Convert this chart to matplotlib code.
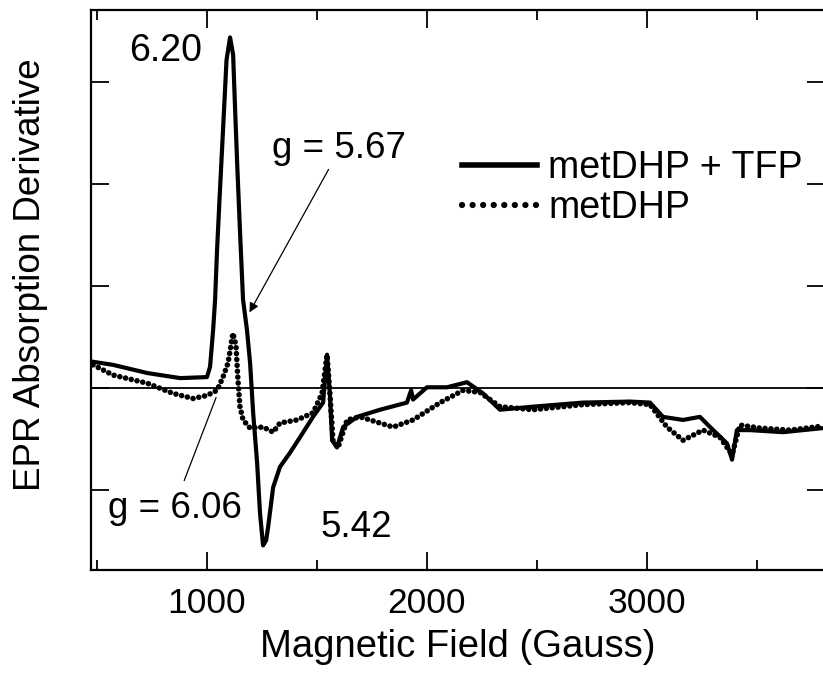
import matplotlib
matplotlib.use("Agg")
import matplotlib.pyplot as plt
from matplotlib.lines import Line2D

plt.rcParams["font.family"] = ["Liberation Sans", "DejaVu Sans"]

# metDHP + TFP (solid)
field_tfp = [483, 574, 729, 879, 1001, 1015, 1029, 1038, 1047, 1058, 1074, 1090, 1106,
             1120, 1129, 1139, 1151, 1165, 1174, 1183, 1197, 1211, 1229, 1242, 1256,
             1270, 1279, 1302, 1333, 1379, 1424, 1483, 1529, 1547, 1560, 1570, 1592,
             1620, 1683, 1788, 1910, 1929, 1938, 2001, 2092, 2183, 2256, 2333, 2483,
             2710, 2924, 3015, 3074, 3165, 3242, 3288, 3365, 3388, 3410, 3469, 3620, 3801]
signal_tfp = [0.26, 0.23, 0.15, 0.10, 0.11, 0.21, 0.57, 0.87, 1.36, 1.85, 2.53, 3.22, 3.44,
              3.27, 2.73, 2.17, 1.55, 0.87, 0.72, 0.57, 0.25, -0.24, -0.73, -1.22, -1.54,
              -1.49, -1.36, -0.97, -0.77, -0.63, -0.48, -0.28, -0.14, 0.33, -0.07, -0.51, -0.58,
              -0.38, -0.28, -0.21, -0.14, -0.02, -0.11, 0.01, 0.01, 0.06, -0.05, -0.21, -0.18,
              -0.14, -0.13, -0.14, -0.28, -0.31, -0.28, -0.38, -0.54, -0.70, -0.41, -0.41, -0.43, -0.39]

# metDHP (dotted)
field_dhp = [483, 574, 729, 847, 938, 1001, 1047, 1074, 1097, 1110, 1119, 1133, 1142, 1151,
             1165, 1197, 1256, 1302, 1333, 1411, 1483, 1524, 1547, 1560, 1574, 1597, 1638,
             1697, 1847, 1938, 2061, 2165, 2242, 2333, 2483, 2710, 2924, 3015, 3092, 3165,
             3256, 3333, 3388, 3424, 3515, 3651, 3801]
signal_dhp = [0.23, 0.13, 0.05, -0.05, -0.10, -0.07, -0.02, 0.11, 0.25, 0.42, 0.54, 0.42, 0.08, -0.18,
              -0.31, -0.39, -0.38, -0.43, -0.34, -0.31, -0.24, -0.05, 0.33, -0.05, -0.51, -0.58, -0.31,
              -0.28, -0.38, -0.31, -0.14, -0.02, -0.04, -0.18, -0.21, -0.16, -0.14, -0.16, -0.38, -0.51,
              -0.41, -0.48, -0.65, -0.36, -0.39, -0.41, -0.37]

x_major = [1000, 2000, 3000]
x_minor = [500, 1500, 2500, 3500]
y_ticks = [-1, 0, 1, 2, 3]

fig = plt.figure(figsize=(8.23, 6.75), dpi=100)
ax = fig.add_axes([0.1106, 0.1556, 0.8917, 0.8296])

ax.axhline(0, color="black", linewidth=1.3, zorder=1)
ax.plot(field_tfp, signal_tfp, color="black", linewidth=3.0, solid_joinstyle="round", zorder=3)
ax.plot(field_dhp, signal_dhp, color="black", linewidth=4.0, linestyle=(0, (0.01, 1.05)),
        dash_capstyle="round", zorder=2)

ax.set_xlim(474, 3810)
ax.set_ylim(-1.781, 3.709)
ax.set_xticks(x_major)
ax.set_xticks(x_minor, minor=True)
ax.set_yticks(y_ticks)
ax.set_yticklabels([])
ax.tick_params(which="both", direction="in", top=True, right=True, width=1.3, labelsize=25.5, pad=12)
ax.tick_params(which="major", length=13)
ax.tick_params(which="minor", length=7)
for spine in ax.spines.values():
    spine.set_linewidth(1.6)

ax.set_xlabel("Magnetic Field (Gauss)", fontsize=27.5, labelpad=7)
ax.set_ylabel("EPR Absorption Derivative", fontsize=26.5)
ax.yaxis.set_label_coords(-0.058, 0.527)

ax.text(815, 3.31, "6.20", fontsize=27, ha="center", va="center")
ax.text(1297, 2.26, "g = 5.67", fontsize=26.5, ha="left", va="baseline")
ax.text(552, -1.27, "g = 6.06", fontsize=26.5, ha="left", va="baseline")
ax.text(1515, -1.46, "5.42", fontsize=26.5, ha="left", va="baseline")
ax.annotate("", xy=(1188, 0.72), xytext=(1560, 2.17),
            arrowprops=dict(arrowstyle="-|>", color="black", lw=0.9, mutation_scale=14))
ax.annotate("", xy=(1047, -0.065), xytext=(893, -0.93),
            arrowprops=dict(arrowstyle="-", color="black", lw=0.9))

handles = [
    Line2D([], [], color="black", linewidth=4.0),
    Line2D([], [], color="black", linewidth=4.5, linestyle=(0, (0.01, 1.68)), dash_capstyle="round"),
]
ax.legend(handles, ["metDHP + TFP", "metDHP"], loc="upper left", bbox_to_anchor=(0.5055, 0.75),
          frameon=False, fontsize=27, handlelength=2.0, handletextpad=0.3,
          labelspacing=0.12, borderpad=0, borderaxespad=0)

fig.savefig("out.png", dpi=100)
